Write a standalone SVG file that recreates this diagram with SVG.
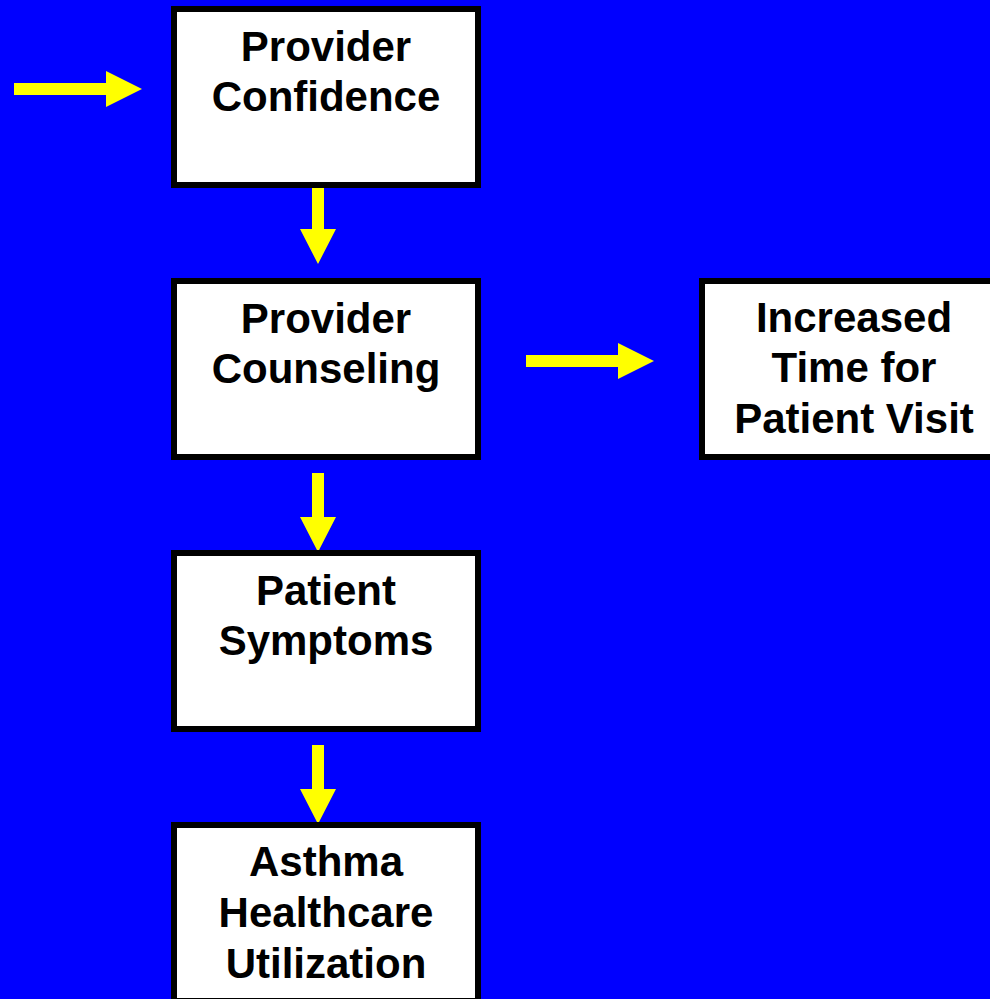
<svg xmlns="http://www.w3.org/2000/svg" width="990" height="999" viewBox="0 0 990 999">
<style>
.box{fill:#fff;stroke:#000;stroke-width:6}
.t{font-family:"Liberation Sans",Arial,sans-serif;font-weight:bold;font-size:42px;fill:#000;text-anchor:middle}
.arr{fill:#ffff00}
</style>
<rect width="990" height="999" fill="#0000ff"/>
<g id="connectors">
<polygon class="arr" points="14,83 106,83 106,71 142,89 106,107 106,95 14,95"/>
<polygon class="arr" points="312,185 324,185 324,229 336,229 318,264 300,229 312,229"/>
<polygon class="arr" points="312,473 324,473 324,517 336,517 318,552 300,517 312,517"/>
<polygon class="arr" points="312,745 324,745 324,789 336,789 318,824 300,789 312,789"/>
<polygon class="arr" points="526,355 618,355 618,343 654,361 618,379 618,367 526,367"/>
</g>
<g id="provider-confidence">
<rect class="box" x="174" y="9" width="304" height="176"/>
<text class="t" x="326" y="61">Provider</text>
<text class="t" x="326" y="111">Confidence</text>
</g>
<g id="provider-counseling">
<rect class="box" x="174" y="281" width="304" height="176"/>
<text class="t" x="326" y="333">Provider</text>
<text class="t" x="326" y="383">Counseling</text>
</g>
<g id="patient-symptoms">
<rect class="box" x="174" y="553" width="304" height="176"/>
<text class="t" x="326" y="605">Patient</text>
<text class="t" x="326" y="655">Symptoms</text>
</g>
<g id="asthma-healthcare-utilization">
<rect class="box" x="174" y="825" width="304" height="176"/>
<text class="t" x="326" y="876">Asthma</text>
<text class="t" x="326" y="927">Healthcare</text>
<text class="t" x="326" y="978">Utilization</text>
</g>
<g id="increased-time">
<rect class="box" x="702" y="281" width="304" height="176"/>
<text class="t" x="854" y="332">Increased</text>
<text class="t" x="854" y="382">Time for</text>
<text class="t" x="854" y="433">Patient Visit</text>
</g>
</svg>
